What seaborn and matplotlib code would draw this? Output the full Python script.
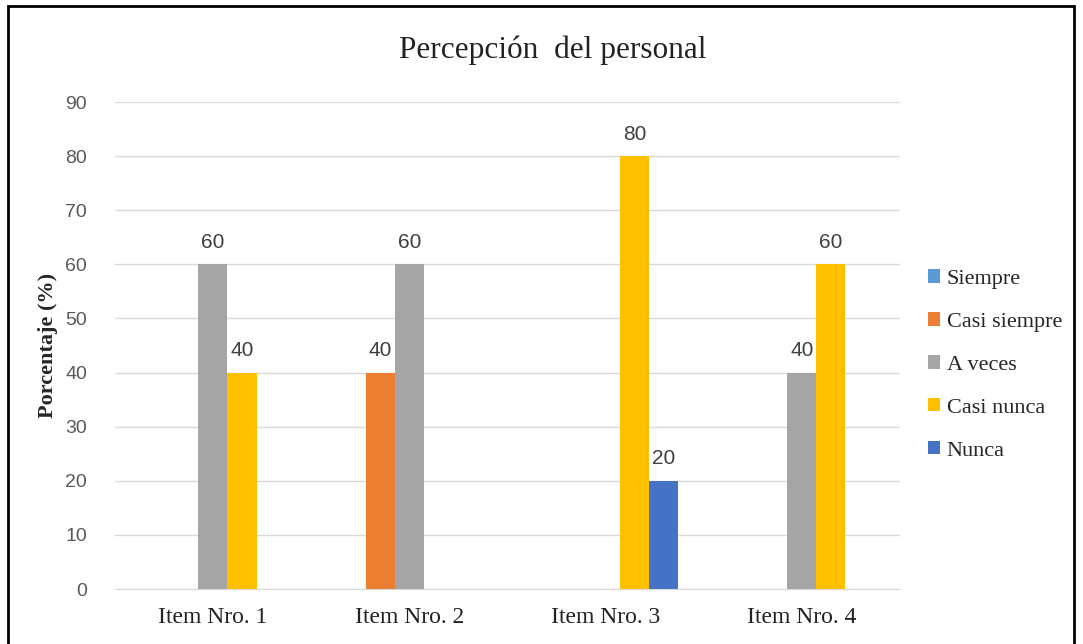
import pandas as pd
import seaborn as sns
import matplotlib.pyplot as plt
from matplotlib.patches import Rectangle

items = ['Item Nro. 1', 'Item Nro. 2', 'Item Nro. 3', 'Item Nro. 4']
respuestas = ['Siempre', 'Casi siempre', 'A veces', 'Casi nunca', 'Nunca']
siempre = [0, 0, 0, 0]
casi_siempre = [0, 40, 0, 0]
a_veces = [60, 60, 0, 40]
casi_nunca = [40, 0, 80, 60]
nunca = [0, 0, 20, 0]
colores = ['#5B9BD5', '#ED7D31', '#A5A5A5', '#FFC000', '#4472C4']

series = [siempre, casi_siempre, a_veces, casi_nunca, nunca]
rows = []
for r, vals in zip(respuestas, series):
    for it, v in zip(items, vals):
        rows.append({'Item': it, 'Respuesta': r, 'Valor': v})
df = pd.DataFrame(rows)

sns.set_style('white')
serif = ['Liberation Serif', 'DejaVu Serif']
sans = ['Liberation Sans', 'DejaVu Sans']

fig = plt.figure(figsize=(10.83, 6.44), dpi=100)
ax = fig.add_axes([0.106, 0.0854, 0.725, 0.7562])

sns.barplot(data=df, x='Item', y='Valor', hue='Respuesta', order=items,
            hue_order=respuestas, palette=colores, width=0.74, ax=ax,
            saturation=1, errorbar=None, linewidth=0)

ax.set_ylim(0, 90)
ax.set_yticks(range(0, 91, 10))
ax.yaxis.grid(True, color='#D9D9D9', linewidth=1)
ax.set_axisbelow(True)
for s in ['top', 'right', 'left']:
    ax.spines[s].set_visible(False)
ax.spines['bottom'].set_color('#D9D9D9')
ax.tick_params(axis='y', length=0, pad=20, labelcolor='#595959', labelsize=14)
ax.tick_params(axis='x', length=0, pad=13, labelsize=17)
for lab in ax.get_yticklabels():
    lab.set_family(sans)
for lab in ax.get_xticklabels():
    lab.set_family(serif)
    lab.set_color('#222222')

ax.set_xlabel('')
ax.set_ylabel('Porcentaje (%)', family=serif, fontsize=16, fontweight='bold')
ax.yaxis.set_label_coords(-0.072, 0.5)

for cont in ax.containers:
    labs = [f'{b.get_height():.0f}' if b.get_height() > 0 else '' for b in cont]
    ax.bar_label(cont, labels=labs, padding=9, fontsize=15, color='#404040',
                 family=sans)

ax.legend(loc='center left', bbox_to_anchor=(1.01, 0.46), frameon=False,
          prop={'family': serif, 'size': 16}, handlelength=0.55,
          handleheight=0.55, handletextpad=0.3, labelspacing=1.05)

fig.text(0.51, 0.922, 'Percepción  del personal', family=serif, fontsize=22.5,
         ha='center', va='center', color='#222222')

fig.patches.append(Rectangle((8 / 1083, -0.02), 1066 / 1083, 1 - 6 / 644 + 0.02,
                             transform=fig.transFigure, fill=False,
                             edgecolor='black', linewidth=2))

fig.savefig('out.png', dpi=100)
